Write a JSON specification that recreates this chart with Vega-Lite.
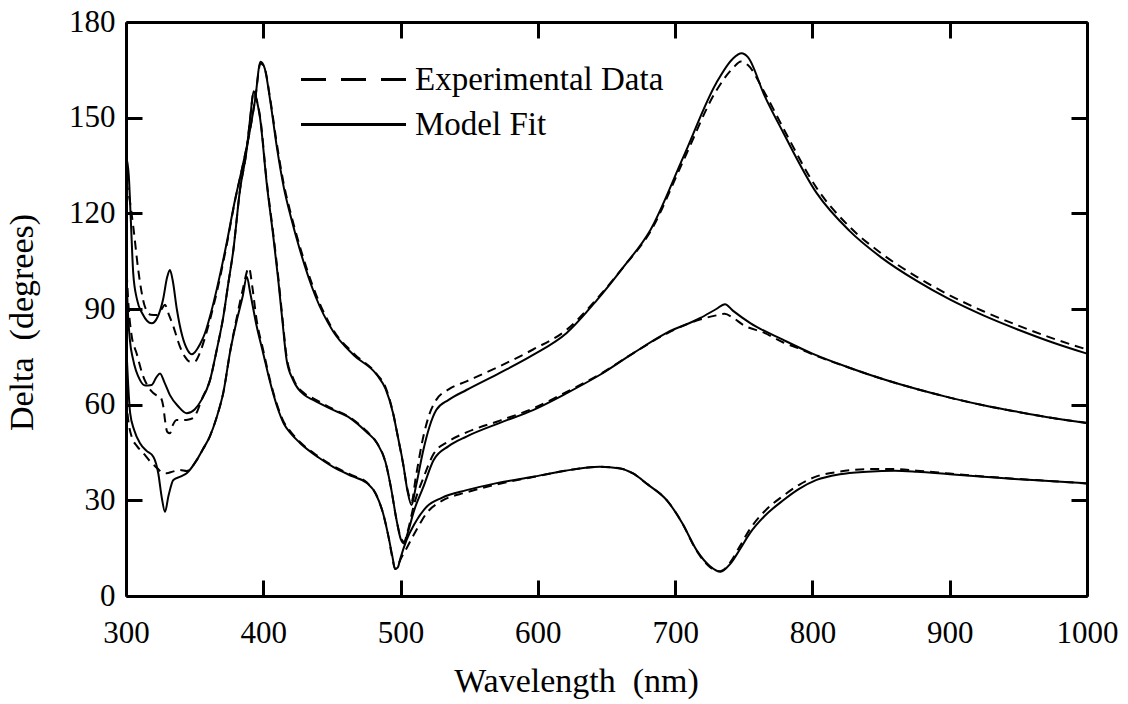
{
  "$schema": "https://vega.github.io/schema/vega-lite/v6.json",
  "width": 961,
  "height": 574,
  "autosize": {"type": "none"},
  "padding": {"left": 126, "top": 22, "right": 41, "bottom": 108},
  "background": "white",
  "config": {
    "view": {"stroke": null},
    "font": "Liberation Serif",
    "axis": {
      "domainColor": "black", "domainWidth": 3, "tickColor": "black", "tickWidth": 3, "tickSize": -16,
      "labelFont": "Liberation Serif", "labelFontSize": 31, "labelColor": "black",
      "titleFont": "Liberation Serif", "titleFontSize": 34, "titleColor": "black", "titleFontWeight": "normal",
      "grid": false, "labelFlush": false, "labelOverlap": false
    }
  },
  "datasets": {
    "pts": [
      {"curve":1,"type":"Model Fit","wavelength":300,"delta":138},{"curve":1,"type":"Model Fit","wavelength":302,"delta":132},{"curve":1,"type":"Model Fit","wavelength":303.5,"delta":118},{"curve":1,"type":"Model Fit","wavelength":305.3,"delta":101},{"curve":1,"type":"Model Fit","wavelength":308,"delta":93},{"curve":1,"type":"Model Fit","wavelength":312,"delta":88.5},{"curve":1,"type":"Model Fit","wavelength":318.7,"delta":85.5},{"curve":1,"type":"Model Fit","wavelength":323,"delta":87.5},{"curve":1,"type":"Model Fit","wavelength":327,"delta":93},{"curve":1,"type":"Model Fit","wavelength":330,"delta":100},{"curve":1,"type":"Model Fit","wavelength":332,"delta":102.2},{"curve":1,"type":"Model Fit","wavelength":334,"delta":99},{"curve":1,"type":"Model Fit","wavelength":337,"delta":90},{"curve":1,"type":"Model Fit","wavelength":341,"delta":81.5},{"curve":1,"type":"Model Fit","wavelength":345,"delta":77},{"curve":1,"type":"Model Fit","wavelength":348,"delta":75.8},{"curve":1,"type":"Model Fit","wavelength":354,"delta":79},{"curve":1,"type":"Model Fit","wavelength":357.5,"delta":82.4},{"curve":1,"type":"Model Fit","wavelength":362,"delta":89},{"curve":1,"type":"Model Fit","wavelength":366,"delta":96},{"curve":1,"type":"Model Fit","wavelength":373.3,"delta":110.6},{"curve":1,"type":"Model Fit","wavelength":379.4,"delta":124.2},{"curve":1,"type":"Model Fit","wavelength":384.3,"delta":133.6},{"curve":1,"type":"Model Fit","wavelength":390.3,"delta":146.1},{"curve":1,"type":"Model Fit","wavelength":394,"delta":155.5},{"curve":1,"type":"Model Fit","wavelength":398,"delta":167.5},{"curve":1,"type":"Model Fit","wavelength":401,"delta":165.5},{"curve":1,"type":"Model Fit","wavelength":405,"delta":155.5},{"curve":1,"type":"Model Fit","wavelength":409.8,"delta":141},{"curve":1,"type":"Model Fit","wavelength":415,"delta":128},{"curve":1,"type":"Model Fit","wavelength":420,"delta":119},{"curve":1,"type":"Model Fit","wavelength":426.7,"delta":108.5},{"curve":1,"type":"Model Fit","wavelength":438,"delta":94},{"curve":1,"type":"Model Fit","wavelength":450.8,"delta":83},{"curve":1,"type":"Model Fit","wavelength":466,"delta":75.5},{"curve":1,"type":"Model Fit","wavelength":482.8,"delta":69.3},{"curve":1,"type":"Model Fit","wavelength":489,"delta":65},{"curve":1,"type":"Model Fit","wavelength":494.5,"delta":57.4},{"curve":1,"type":"Model Fit","wavelength":498,"delta":50},{"curve":1,"type":"Model Fit","wavelength":501.8,"delta":41.7},{"curve":1,"type":"Model Fit","wavelength":505,"delta":33},{"curve":1,"type":"Model Fit","wavelength":508,"delta":28.5},{"curve":1,"type":"Model Fit","wavelength":511,"delta":34},{"curve":1,"type":"Model Fit","wavelength":516.6,"delta":45.8},{"curve":1,"type":"Model Fit","wavelength":521,"delta":53},{"curve":1,"type":"Model Fit","wavelength":526,"delta":58.3},{"curve":1,"type":"Model Fit","wavelength":535,"delta":61.5},{"curve":1,"type":"Model Fit","wavelength":548,"delta":64.6},{"curve":1,"type":"Model Fit","wavelength":572,"delta":69.9},{"curve":1,"type":"Model Fit","wavelength":596.5,"delta":75.6},{"curve":1,"type":"Model Fit","wavelength":621,"delta":82.5},{"curve":1,"type":"Model Fit","wavelength":643,"delta":92.8},{"curve":1,"type":"Model Fit","wavelength":662,"delta":103},{"curve":1,"type":"Model Fit","wavelength":682,"delta":114.8},{"curve":1,"type":"Model Fit","wavelength":706,"delta":137.7},{"curve":1,"type":"Model Fit","wavelength":730,"delta":160.9},{"curve":1,"type":"Model Fit","wavelength":742,"delta":168.5},{"curve":1,"type":"Model Fit","wavelength":748.4,"delta":170.2},{"curve":1,"type":"Model Fit","wavelength":753,"delta":169},{"curve":1,"type":"Model Fit","wavelength":765,"delta":157},{"curve":1,"type":"Model Fit","wavelength":779,"delta":145.1},{"curve":1,"type":"Model Fit","wavelength":803,"delta":126.4},{"curve":1,"type":"Model Fit","wavelength":827,"delta":114.5},{"curve":1,"type":"Model Fit","wavelength":850,"delta":106.2},{"curve":1,"type":"Model Fit","wavelength":876,"delta":98.8},{"curve":1,"type":"Model Fit","wavelength":900,"delta":93},{"curve":1,"type":"Model Fit","wavelength":924.5,"delta":88},{"curve":1,"type":"Model Fit","wavelength":950,"delta":83.5},{"curve":1,"type":"Model Fit","wavelength":975,"delta":79.5},{"curve":1,"type":"Model Fit","wavelength":1000,"delta":76},

      {"curve":1,"type":"Experimental Data","wavelength":300,"delta":130},{"curve":1,"type":"Experimental Data","wavelength":302,"delta":126},{"curve":1,"type":"Experimental Data","wavelength":305.3,"delta":115.8},{"curve":1,"type":"Experimental Data","wavelength":309,"delta":102},{"curve":1,"type":"Experimental Data","wavelength":313.8,"delta":90.7},{"curve":1,"type":"Experimental Data","wavelength":318,"delta":88.2},{"curve":1,"type":"Experimental Data","wavelength":322.4,"delta":88.1},{"curve":1,"type":"Experimental Data","wavelength":326,"delta":90},{"curve":1,"type":"Experimental Data","wavelength":328.4,"delta":91.3},{"curve":1,"type":"Experimental Data","wavelength":331,"delta":88.5},{"curve":1,"type":"Experimental Data","wavelength":334.5,"delta":84.5},{"curve":1,"type":"Experimental Data","wavelength":339.3,"delta":78.2},{"curve":1,"type":"Experimental Data","wavelength":343,"delta":75},{"curve":1,"type":"Experimental Data","wavelength":346.6,"delta":73.5},{"curve":1,"type":"Experimental Data","wavelength":350,"delta":73.5},{"curve":1,"type":"Experimental Data","wavelength":354,"delta":76.5},{"curve":1,"type":"Experimental Data","wavelength":357.5,"delta":81},{"curve":1,"type":"Experimental Data","wavelength":362,"delta":88},{"curve":1,"type":"Experimental Data","wavelength":366,"delta":95},{"curve":1,"type":"Experimental Data","wavelength":373.3,"delta":110},{"curve":1,"type":"Experimental Data","wavelength":379.4,"delta":124},{"curve":1,"type":"Experimental Data","wavelength":384.3,"delta":133.5},{"curve":1,"type":"Experimental Data","wavelength":390.3,"delta":146},{"curve":1,"type":"Experimental Data","wavelength":394,"delta":155.5},{"curve":1,"type":"Experimental Data","wavelength":398,"delta":167},{"curve":1,"type":"Experimental Data","wavelength":401,"delta":165.5},{"curve":1,"type":"Experimental Data","wavelength":405,"delta":156},{"curve":1,"type":"Experimental Data","wavelength":409.8,"delta":142},{"curve":1,"type":"Experimental Data","wavelength":415,"delta":129},{"curve":1,"type":"Experimental Data","wavelength":420,"delta":120},{"curve":1,"type":"Experimental Data","wavelength":426.7,"delta":109.5},{"curve":1,"type":"Experimental Data","wavelength":438,"delta":95},{"curve":1,"type":"Experimental Data","wavelength":450.8,"delta":83.5},{"curve":1,"type":"Experimental Data","wavelength":466,"delta":76},{"curve":1,"type":"Experimental Data","wavelength":482.8,"delta":69.5},{"curve":1,"type":"Experimental Data","wavelength":489,"delta":65.5},{"curve":1,"type":"Experimental Data","wavelength":494.5,"delta":57.5},{"curve":1,"type":"Experimental Data","wavelength":498,"delta":50},{"curve":1,"type":"Experimental Data","wavelength":501.8,"delta":41.5},{"curve":1,"type":"Experimental Data","wavelength":505,"delta":33.5},{"curve":1,"type":"Experimental Data","wavelength":508,"delta":29.5},{"curve":1,"type":"Experimental Data","wavelength":511,"delta":37},{"curve":1,"type":"Experimental Data","wavelength":516.6,"delta":50},{"curve":1,"type":"Experimental Data","wavelength":521,"delta":57},{"curve":1,"type":"Experimental Data","wavelength":526,"delta":61.5},{"curve":1,"type":"Experimental Data","wavelength":535,"delta":64.8},{"curve":1,"type":"Experimental Data","wavelength":548,"delta":67.3},{"curve":1,"type":"Experimental Data","wavelength":572,"delta":72},{"curve":1,"type":"Experimental Data","wavelength":596.5,"delta":77.3},{"curve":1,"type":"Experimental Data","wavelength":621,"delta":83.5},{"curve":1,"type":"Experimental Data","wavelength":643,"delta":93.2},{"curve":1,"type":"Experimental Data","wavelength":662,"delta":103},{"curve":1,"type":"Experimental Data","wavelength":682,"delta":114.3},{"curve":1,"type":"Experimental Data","wavelength":706,"delta":136.5},{"curve":1,"type":"Experimental Data","wavelength":730,"delta":158.5},{"curve":1,"type":"Experimental Data","wavelength":742,"delta":165.5},{"curve":1,"type":"Experimental Data","wavelength":748,"delta":167.6},{"curve":1,"type":"Experimental Data","wavelength":753,"delta":166.5},{"curve":1,"type":"Experimental Data","wavelength":765,"delta":158},{"curve":1,"type":"Experimental Data","wavelength":779,"delta":146.5},{"curve":1,"type":"Experimental Data","wavelength":803,"delta":128},{"curve":1,"type":"Experimental Data","wavelength":827,"delta":115.8},{"curve":1,"type":"Experimental Data","wavelength":850,"delta":107.5},{"curve":1,"type":"Experimental Data","wavelength":876,"delta":100.1},{"curve":1,"type":"Experimental Data","wavelength":900,"delta":94.3},{"curve":1,"type":"Experimental Data","wavelength":924.5,"delta":89.3},{"curve":1,"type":"Experimental Data","wavelength":950,"delta":84.8},{"curve":1,"type":"Experimental Data","wavelength":975,"delta":80.8},{"curve":1,"type":"Experimental Data","wavelength":1000,"delta":77.3},

      {"curve":2,"type":"Model Fit","wavelength":300,"delta":108},{"curve":2,"type":"Model Fit","wavelength":301,"delta":93},{"curve":2,"type":"Model Fit","wavelength":302.9,"delta":80},{"curve":2,"type":"Model Fit","wavelength":305,"delta":74.5},{"curve":2,"type":"Model Fit","wavelength":310.2,"delta":67.7},{"curve":2,"type":"Model Fit","wavelength":314,"delta":66},{"curve":2,"type":"Model Fit","wavelength":318.7,"delta":66.2},{"curve":2,"type":"Model Fit","wavelength":322,"delta":68.5},{"curve":2,"type":"Model Fit","wavelength":324.8,"delta":69.8},{"curve":2,"type":"Model Fit","wavelength":328,"delta":67},{"curve":2,"type":"Model Fit","wavelength":332,"delta":63},{"curve":2,"type":"Model Fit","wavelength":338,"delta":59.5},{"curve":2,"type":"Model Fit","wavelength":344.2,"delta":57.3},{"curve":2,"type":"Model Fit","wavelength":350,"delta":58.5},{"curve":2,"type":"Model Fit","wavelength":355,"delta":61.5},{"curve":2,"type":"Model Fit","wavelength":361.2,"delta":67.7},{"curve":2,"type":"Model Fit","wavelength":366,"delta":77},{"curve":2,"type":"Model Fit","wavelength":370.9,"delta":87.6},{"curve":2,"type":"Model Fit","wavelength":374.5,"delta":98},{"curve":2,"type":"Model Fit","wavelength":378.2,"delta":108.5},{"curve":2,"type":"Model Fit","wavelength":383,"delta":127.3},{"curve":2,"type":"Model Fit","wavelength":387.9,"delta":139.9},{"curve":2,"type":"Model Fit","wavelength":390.5,"delta":150},{"curve":2,"type":"Model Fit","wavelength":393,"delta":158.3},{"curve":2,"type":"Model Fit","wavelength":395.5,"delta":155},{"curve":2,"type":"Model Fit","wavelength":397.6,"delta":150},{"curve":2,"type":"Model Fit","wavelength":402.5,"delta":129.4},{"curve":2,"type":"Model Fit","wavelength":407.3,"delta":112.7},{"curve":2,"type":"Model Fit","wavelength":410.9,"delta":99.1},{"curve":2,"type":"Model Fit","wavelength":414,"delta":86},{"curve":2,"type":"Model Fit","wavelength":417,"delta":74},{"curve":2,"type":"Model Fit","wavelength":422,"delta":67.5},{"curve":2,"type":"Model Fit","wavelength":430,"delta":63},{"curve":2,"type":"Model Fit","wavelength":436.3,"delta":61.5},{"curve":2,"type":"Model Fit","wavelength":450,"delta":58.5},{"curve":2,"type":"Model Fit","wavelength":463.2,"delta":55.8},{"curve":2,"type":"Model Fit","wavelength":475,"delta":51.5},{"curve":2,"type":"Model Fit","wavelength":482.8,"delta":48},{"curve":2,"type":"Model Fit","wavelength":489,"delta":42},{"curve":2,"type":"Model Fit","wavelength":493,"delta":34},{"curve":2,"type":"Model Fit","wavelength":497,"delta":24},{"curve":2,"type":"Model Fit","wavelength":500,"delta":18},{"curve":2,"type":"Model Fit","wavelength":502.5,"delta":16.5},{"curve":2,"type":"Model Fit","wavelength":505,"delta":19.5},{"curve":2,"type":"Model Fit","wavelength":510,"delta":27},{"curve":2,"type":"Model Fit","wavelength":516.6,"delta":34.2},{"curve":2,"type":"Model Fit","wavelength":524,"delta":42.6},{"curve":2,"type":"Model Fit","wavelength":535,"delta":47},{"curve":2,"type":"Model Fit","wavelength":548,"delta":50},{"curve":2,"type":"Model Fit","wavelength":572.4,"delta":54.3},{"curve":2,"type":"Model Fit","wavelength":596.5,"delta":58.3},{"curve":2,"type":"Model Fit","wavelength":621,"delta":63.6},{"curve":2,"type":"Model Fit","wavelength":645,"delta":69.3},{"curve":2,"type":"Model Fit","wavelength":669.3,"delta":76.1},{"curve":2,"type":"Model Fit","wavelength":693.8,"delta":82.5},{"curve":2,"type":"Model Fit","wavelength":718,"delta":87.1},{"curve":2,"type":"Model Fit","wavelength":730,"delta":90},{"curve":2,"type":"Model Fit","wavelength":736.3,"delta":91.5},{"curve":2,"type":"Model Fit","wavelength":742,"delta":89.5},{"curve":2,"type":"Model Fit","wavelength":755,"delta":85.5},{"curve":2,"type":"Model Fit","wavelength":778.8,"delta":80.3},{"curve":2,"type":"Model Fit","wavelength":800,"delta":76},{"curve":2,"type":"Model Fit","wavelength":827.4,"delta":71.5},{"curve":2,"type":"Model Fit","wavelength":850,"delta":68.2},{"curve":2,"type":"Model Fit","wavelength":876,"delta":64.9},{"curve":2,"type":"Model Fit","wavelength":900,"delta":62.2},{"curve":2,"type":"Model Fit","wavelength":924.5,"delta":59.8},{"curve":2,"type":"Model Fit","wavelength":950,"delta":57.7},{"curve":2,"type":"Model Fit","wavelength":975,"delta":55.8},{"curve":2,"type":"Model Fit","wavelength":1000,"delta":54.2},

      {"curve":2,"type":"Experimental Data","wavelength":300,"delta":106},{"curve":2,"type":"Experimental Data","wavelength":302,"delta":90},{"curve":2,"type":"Experimental Data","wavelength":304,"delta":82},{"curve":2,"type":"Experimental Data","wavelength":307.8,"delta":76},{"curve":2,"type":"Experimental Data","wavelength":312.6,"delta":68.8},{"curve":2,"type":"Experimental Data","wavelength":318,"delta":64.5},{"curve":2,"type":"Experimental Data","wavelength":322,"delta":63},{"curve":2,"type":"Experimental Data","wavelength":324.8,"delta":62.5},{"curve":2,"type":"Experimental Data","wavelength":327.2,"delta":59.4},{"curve":2,"type":"Experimental Data","wavelength":328.4,"delta":55.2},{"curve":2,"type":"Experimental Data","wavelength":330,"delta":51.5},{"curve":2,"type":"Experimental Data","wavelength":332,"delta":51},{"curve":2,"type":"Experimental Data","wavelength":334,"delta":53.5},{"curve":2,"type":"Experimental Data","wavelength":336.9,"delta":55.2},{"curve":2,"type":"Experimental Data","wavelength":341.7,"delta":55.2},{"curve":2,"type":"Experimental Data","wavelength":345,"delta":55.3},{"curve":2,"type":"Experimental Data","wavelength":349,"delta":55.8},{"curve":2,"type":"Experimental Data","wavelength":352,"delta":58},{"curve":2,"type":"Experimental Data","wavelength":355,"delta":61.5},{"curve":2,"type":"Experimental Data","wavelength":361.2,"delta":67.7},{"curve":2,"type":"Experimental Data","wavelength":366,"delta":77},{"curve":2,"type":"Experimental Data","wavelength":370.9,"delta":87.6},{"curve":2,"type":"Experimental Data","wavelength":374.5,"delta":98},{"curve":2,"type":"Experimental Data","wavelength":378.2,"delta":108.5},{"curve":2,"type":"Experimental Data","wavelength":383,"delta":127.3},{"curve":2,"type":"Experimental Data","wavelength":387.9,"delta":139.9},{"curve":2,"type":"Experimental Data","wavelength":390.5,"delta":150},{"curve":2,"type":"Experimental Data","wavelength":393,"delta":158},{"curve":2,"type":"Experimental Data","wavelength":395.5,"delta":155},{"curve":2,"type":"Experimental Data","wavelength":397.6,"delta":150.5},{"curve":2,"type":"Experimental Data","wavelength":402.5,"delta":130},{"curve":2,"type":"Experimental Data","wavelength":407.3,"delta":113.5},{"curve":2,"type":"Experimental Data","wavelength":410.9,"delta":100},{"curve":2,"type":"Experimental Data","wavelength":414,"delta":87},{"curve":2,"type":"Experimental Data","wavelength":417,"delta":75},{"curve":2,"type":"Experimental Data","wavelength":422,"delta":68},{"curve":2,"type":"Experimental Data","wavelength":430,"delta":63.5},{"curve":2,"type":"Experimental Data","wavelength":436.3,"delta":62},{"curve":2,"type":"Experimental Data","wavelength":450,"delta":58.8},{"curve":2,"type":"Experimental Data","wavelength":463.2,"delta":56},{"curve":2,"type":"Experimental Data","wavelength":475,"delta":51.8},{"curve":2,"type":"Experimental Data","wavelength":482.8,"delta":48},{"curve":2,"type":"Experimental Data","wavelength":489,"delta":42},{"curve":2,"type":"Experimental Data","wavelength":493,"delta":34},{"curve":2,"type":"Experimental Data","wavelength":497,"delta":24},{"curve":2,"type":"Experimental Data","wavelength":500,"delta":18.5},{"curve":2,"type":"Experimental Data","wavelength":502.5,"delta":17},{"curve":2,"type":"Experimental Data","wavelength":505,"delta":20},{"curve":2,"type":"Experimental Data","wavelength":510,"delta":29},{"curve":2,"type":"Experimental Data","wavelength":516.6,"delta":37},{"curve":2,"type":"Experimental Data","wavelength":524,"delta":44.5},{"curve":2,"type":"Experimental Data","wavelength":535,"delta":48.5},{"curve":2,"type":"Experimental Data","wavelength":548,"delta":51.3},{"curve":2,"type":"Experimental Data","wavelength":572.4,"delta":55},{"curve":2,"type":"Experimental Data","wavelength":596.5,"delta":58.8},{"curve":2,"type":"Experimental Data","wavelength":621,"delta":64},{"curve":2,"type":"Experimental Data","wavelength":645,"delta":69.5},{"curve":2,"type":"Experimental Data","wavelength":669.3,"delta":76.1},{"curve":2,"type":"Experimental Data","wavelength":693.8,"delta":82.3},{"curve":2,"type":"Experimental Data","wavelength":718,"delta":86.7},{"curve":2,"type":"Experimental Data","wavelength":730,"delta":88},{"curve":2,"type":"Experimental Data","wavelength":736,"delta":88.5},{"curve":2,"type":"Experimental Data","wavelength":742,"delta":87.3},{"curve":2,"type":"Experimental Data","wavelength":749.6,"delta":85},{"curve":2,"type":"Experimental Data","wavelength":765,"delta":82.5},{"curve":2,"type":"Experimental Data","wavelength":778.8,"delta":79.5},{"curve":2,"type":"Experimental Data","wavelength":790.9,"delta":77.5},{"curve":2,"type":"Experimental Data","wavelength":800,"delta":75.8},{"curve":2,"type":"Experimental Data","wavelength":827.4,"delta":71.5},{"curve":2,"type":"Experimental Data","wavelength":850,"delta":68.2},{"curve":2,"type":"Experimental Data","wavelength":876,"delta":64.9},{"curve":2,"type":"Experimental Data","wavelength":900,"delta":62.2},{"curve":2,"type":"Experimental Data","wavelength":924.5,"delta":59.8},{"curve":2,"type":"Experimental Data","wavelength":950,"delta":57.7},{"curve":2,"type":"Experimental Data","wavelength":975,"delta":55.8},{"curve":2,"type":"Experimental Data","wavelength":1000,"delta":54.3},

      {"curve":3,"type":"Model Fit","wavelength":300,"delta":80},{"curve":3,"type":"Model Fit","wavelength":301.5,"delta":67},{"curve":3,"type":"Model Fit","wavelength":303,"delta":57.4},{"curve":3,"type":"Model Fit","wavelength":306,"delta":52},{"curve":3,"type":"Model Fit","wavelength":310.2,"delta":47.9},{"curve":3,"type":"Model Fit","wavelength":315,"delta":45.5},{"curve":3,"type":"Model Fit","wavelength":319.9,"delta":43.7},{"curve":3,"type":"Model Fit","wavelength":323.5,"delta":38.5},{"curve":3,"type":"Model Fit","wavelength":326,"delta":31},{"curve":3,"type":"Model Fit","wavelength":328.4,"delta":26.4},{"curve":3,"type":"Model Fit","wavelength":331,"delta":31.5},{"curve":3,"type":"Model Fit","wavelength":334.5,"delta":36.4},{"curve":3,"type":"Model Fit","wavelength":340,"delta":37.5},{"curve":3,"type":"Model Fit","wavelength":344.2,"delta":38.5},{"curve":3,"type":"Model Fit","wavelength":351.5,"delta":42.6},{"curve":3,"type":"Model Fit","wavelength":356,"delta":46},{"curve":3,"type":"Model Fit","wavelength":361,"delta":50},{"curve":3,"type":"Model Fit","wavelength":366,"delta":56},{"curve":3,"type":"Model Fit","wavelength":371,"delta":64},{"curve":3,"type":"Model Fit","wavelength":376,"delta":77},{"curve":3,"type":"Model Fit","wavelength":381,"delta":87},{"curve":3,"type":"Model Fit","wavelength":385,"delta":94},{"curve":3,"type":"Model Fit","wavelength":388,"delta":100.1},{"curve":3,"type":"Model Fit","wavelength":390.5,"delta":95},{"curve":3,"type":"Model Fit","wavelength":395,"delta":85},{"curve":3,"type":"Model Fit","wavelength":400,"delta":76},{"curve":3,"type":"Model Fit","wavelength":405,"delta":67},{"curve":3,"type":"Model Fit","wavelength":410,"delta":59.5},{"curve":3,"type":"Model Fit","wavelength":415,"delta":54},{"curve":3,"type":"Model Fit","wavelength":420,"delta":51},{"curve":3,"type":"Model Fit","wavelength":426.7,"delta":48},{"curve":3,"type":"Model Fit","wavelength":440,"delta":43.5},{"curve":3,"type":"Model Fit","wavelength":450.8,"delta":40.5},{"curve":3,"type":"Model Fit","wavelength":465,"delta":37.5},{"curve":3,"type":"Model Fit","wavelength":475.5,"delta":35.4},{"curve":3,"type":"Model Fit","wavelength":482,"delta":32},{"curve":3,"type":"Model Fit","wavelength":487.2,"delta":26},{"curve":3,"type":"Model Fit","wavelength":491,"delta":19},{"curve":3,"type":"Model Fit","wavelength":494,"delta":12.5},{"curve":3,"type":"Model Fit","wavelength":496,"delta":8.5},{"curve":3,"type":"Model Fit","wavelength":498,"delta":9},{"curve":3,"type":"Model Fit","wavelength":500,"delta":12},{"curve":3,"type":"Model Fit","wavelength":504.4,"delta":17.6},{"curve":3,"type":"Model Fit","wavelength":510,"delta":22.5},{"curve":3,"type":"Model Fit","wavelength":519,"delta":28},{"curve":3,"type":"Model Fit","wavelength":530,"delta":30.8},{"curve":3,"type":"Model Fit","wavelength":548,"delta":33.2},{"curve":3,"type":"Model Fit","wavelength":570,"delta":35.4},{"curve":3,"type":"Model Fit","wavelength":596.5,"delta":37.4},{"curve":3,"type":"Model Fit","wavelength":620,"delta":39.3},{"curve":3,"type":"Model Fit","wavelength":645,"delta":40.5},{"curve":3,"type":"Model Fit","wavelength":660,"delta":40},{"curve":3,"type":"Model Fit","wavelength":669,"delta":38.5},{"curve":3,"type":"Model Fit","wavelength":680,"delta":35},{"curve":3,"type":"Model Fit","wavelength":694,"delta":30},{"curve":3,"type":"Model Fit","wavelength":705,"delta":23},{"curve":3,"type":"Model Fit","wavelength":715.6,"delta":14.4},{"curve":3,"type":"Model Fit","wavelength":725,"delta":9.5},{"curve":3,"type":"Model Fit","wavelength":733,"delta":7.6},{"curve":3,"type":"Model Fit","wavelength":740,"delta":10},{"curve":3,"type":"Model Fit","wavelength":747,"delta":14.5},{"curve":3,"type":"Model Fit","wavelength":754.5,"delta":19.7},{"curve":3,"type":"Model Fit","wavelength":765,"delta":25},{"curve":3,"type":"Model Fit","wavelength":779,"delta":30.1},{"curve":3,"type":"Model Fit","wavelength":790,"delta":33.5},{"curve":3,"type":"Model Fit","wavelength":803,"delta":36.4},{"curve":3,"type":"Model Fit","wavelength":820,"delta":38.2},{"curve":3,"type":"Model Fit","wavelength":840,"delta":39},{"curve":3,"type":"Model Fit","wavelength":860,"delta":39.3},{"curve":3,"type":"Model Fit","wavelength":876,"delta":39},{"curve":3,"type":"Model Fit","wavelength":900,"delta":38.2},{"curve":3,"type":"Model Fit","wavelength":924.5,"delta":37.4},{"curve":3,"type":"Model Fit","wavelength":950,"delta":36.6},{"curve":3,"type":"Model Fit","wavelength":975,"delta":36},{"curve":3,"type":"Model Fit","wavelength":1000,"delta":35.3},

      {"curve":3,"type":"Experimental Data","wavelength":300,"delta":62},{"curve":3,"type":"Experimental Data","wavelength":302,"delta":54},{"curve":3,"type":"Experimental Data","wavelength":304.1,"delta":50},{"curve":3,"type":"Experimental Data","wavelength":308,"delta":47},{"curve":3,"type":"Experimental Data","wavelength":312.6,"delta":44.8},{"curve":3,"type":"Experimental Data","wavelength":318,"delta":42},{"curve":3,"type":"Experimental Data","wavelength":323,"delta":40},{"curve":3,"type":"Experimental Data","wavelength":326,"delta":38.8},{"curve":3,"type":"Experimental Data","wavelength":329.6,"delta":38.5},{"curve":3,"type":"Experimental Data","wavelength":334,"delta":39},{"curve":3,"type":"Experimental Data","wavelength":339.3,"delta":39.5},{"curve":3,"type":"Experimental Data","wavelength":344.2,"delta":39.2},{"curve":3,"type":"Experimental Data","wavelength":351.5,"delta":42.6},{"curve":3,"type":"Experimental Data","wavelength":356,"delta":46},{"curve":3,"type":"Experimental Data","wavelength":361,"delta":50},{"curve":3,"type":"Experimental Data","wavelength":366,"delta":56},{"curve":3,"type":"Experimental Data","wavelength":371,"delta":64},{"curve":3,"type":"Experimental Data","wavelength":376,"delta":77},{"curve":3,"type":"Experimental Data","wavelength":381,"delta":88},{"curve":3,"type":"Experimental Data","wavelength":385,"delta":96},{"curve":3,"type":"Experimental Data","wavelength":389.6,"delta":102.9},{"curve":3,"type":"Experimental Data","wavelength":392,"delta":97},{"curve":3,"type":"Experimental Data","wavelength":395,"delta":87},{"curve":3,"type":"Experimental Data","wavelength":400,"delta":77},{"curve":3,"type":"Experimental Data","wavelength":405,"delta":67.5},{"curve":3,"type":"Experimental Data","wavelength":410,"delta":60},{"curve":3,"type":"Experimental Data","wavelength":415,"delta":54.5},{"curve":3,"type":"Experimental Data","wavelength":420,"delta":51.5},{"curve":3,"type":"Experimental Data","wavelength":426.7,"delta":48.3},{"curve":3,"type":"Experimental Data","wavelength":440,"delta":43.8},{"curve":3,"type":"Experimental Data","wavelength":450.8,"delta":40.8},{"curve":3,"type":"Experimental Data","wavelength":465,"delta":37.8},{"curve":3,"type":"Experimental Data","wavelength":475.5,"delta":35.6},{"curve":3,"type":"Experimental Data","wavelength":482,"delta":32},{"curve":3,"type":"Experimental Data","wavelength":487.2,"delta":26},{"curve":3,"type":"Experimental Data","wavelength":491,"delta":19},{"curve":3,"type":"Experimental Data","wavelength":494,"delta":12},{"curve":3,"type":"Experimental Data","wavelength":496,"delta":8.5},{"curve":3,"type":"Experimental Data","wavelength":498,"delta":9.5},{"curve":3,"type":"Experimental Data","wavelength":500,"delta":11.5},{"curve":3,"type":"Experimental Data","wavelength":504.4,"delta":15},{"curve":3,"type":"Experimental Data","wavelength":510,"delta":19.5},{"curve":3,"type":"Experimental Data","wavelength":519,"delta":26},{"curve":3,"type":"Experimental Data","wavelength":530,"delta":29.8},{"curve":3,"type":"Experimental Data","wavelength":548,"delta":32.5},{"curve":3,"type":"Experimental Data","wavelength":570,"delta":35},{"curve":3,"type":"Experimental Data","wavelength":596.5,"delta":37.3},{"curve":3,"type":"Experimental Data","wavelength":620,"delta":39.3},{"curve":3,"type":"Experimental Data","wavelength":645,"delta":40.5},{"curve":3,"type":"Experimental Data","wavelength":660,"delta":40},{"curve":3,"type":"Experimental Data","wavelength":669,"delta":38.5},{"curve":3,"type":"Experimental Data","wavelength":680,"delta":35},{"curve":3,"type":"Experimental Data","wavelength":694,"delta":30},{"curve":3,"type":"Experimental Data","wavelength":705,"delta":23},{"curve":3,"type":"Experimental Data","wavelength":715.6,"delta":14.2},{"curve":3,"type":"Experimental Data","wavelength":725,"delta":9.2},{"curve":3,"type":"Experimental Data","wavelength":733,"delta":7.8},{"curve":3,"type":"Experimental Data","wavelength":740,"delta":10.5},{"curve":3,"type":"Experimental Data","wavelength":747,"delta":15.5},{"curve":3,"type":"Experimental Data","wavelength":754.5,"delta":21},{"curve":3,"type":"Experimental Data","wavelength":765,"delta":26.5},{"curve":3,"type":"Experimental Data","wavelength":779,"delta":31.5},{"curve":3,"type":"Experimental Data","wavelength":790,"delta":34.8},{"curve":3,"type":"Experimental Data","wavelength":803,"delta":37.5},{"curve":3,"type":"Experimental Data","wavelength":820,"delta":39},{"curve":3,"type":"Experimental Data","wavelength":840,"delta":39.8},{"curve":3,"type":"Experimental Data","wavelength":860,"delta":39.8},{"curve":3,"type":"Experimental Data","wavelength":876,"delta":39.3},{"curve":3,"type":"Experimental Data","wavelength":900,"delta":38.4},{"curve":3,"type":"Experimental Data","wavelength":924.5,"delta":37.5},{"curve":3,"type":"Experimental Data","wavelength":950,"delta":36.7},{"curve":3,"type":"Experimental Data","wavelength":975,"delta":36},{"curve":3,"type":"Experimental Data","wavelength":1000,"delta":35.3}
    ]
  },
  "data": {"name": "pts"},
  "layer": [
    {
      "transform": [{"filter": {"field": "type", "equal": "Experimental Data"}}],
      "mark": {"type": "line", "color": "black", "strokeWidth": 2, "strokeDash": [9, 6], "interpolate": "monotone"},
      "encoding": {
        "x": {"field": "wavelength", "type": "quantitative",
          "scale": {"domain": [300, 1000], "nice": false, "zero": false},
          "axis": {"orient": "bottom", "values": [300, 400, 500, 600, 700, 800, 900, 1000], "format": "d", "labelPadding": 38,
            "title": "Wavelength\u00a0 (nm)", "titleX": 450, "titleY": 95, "titleAlign": "center", "titleBaseline": "alphabetic"}},
        "y": {"field": "delta", "type": "quantitative",
          "scale": {"domain": [0, 180], "nice": false, "zero": false},
          "axis": {"orient": "left", "values": [0, 30, 60, 90, 120, 150, 180], "format": "d", "labelPadding": 27,
            "title": "Delta\u00a0 (degrees)", "titleX": -104, "titleY": 300, "titleAngle": 270, "titleAlign": "center", "titleBaseline": "middle"}},
        "detail": {"field": "curve", "type": "nominal"}
      }
    },
    {
      "transform": [{"filter": {"field": "type", "equal": "Model Fit"}}],
      "mark": {"type": "line", "color": "black", "strokeWidth": 2, "interpolate": "monotone"},
      "encoding": {
        "x": {"field": "wavelength", "type": "quantitative",
          "scale": {"domain": [300, 1000], "nice": false, "zero": false},
          "axis": {"orient": "top", "values": [300, 400, 500, 600, 700, 800, 900, 1000], "labels": false, "title": null}},
        "y": {"field": "delta", "type": "quantitative",
          "scale": {"domain": [0, 180], "nice": false, "zero": false},
          "axis": {"orient": "right", "values": [0, 30, 60, 90, 120, 150, 180], "labels": false, "title": null}},
        "detail": {"field": "curve", "type": "nominal"}
      }
    },
    {
      "transform": [{"filter": "datum.wavelength < 0"}],
      "mark": {"type": "line", "color": "black", "strokeWidth": 2},
      "encoding": {
        "x": {"field": "wavelength", "type": "quantitative", "axis": null},
        "y": {"field": "delta", "type": "quantitative", "axis": null},
        "detail": {"field": "curve", "type": "nominal"},
        "strokeDash": {"field": "type", "type": "nominal",
          "scale": {"domain": ["Experimental Data", "Model Fit"], "range": [[25, 15], [1, 0]]},
          "legend": {"orient": "none", "legendX": 169, "legendY": 41, "title": null, "padding": 0,
            "symbolType": "M-5,0H5", "symbolSize": 441, "symbolOffset": 42, "symbolStrokeWidth": 3, "symbolStrokeColor": "black",
            "labelFont": "Liberation Serif", "labelFontSize": 33, "labelColor": "black", "labelOffset": 45, "labelLimit": 0, "rowPadding": 11}}
      }
    }
  ],
  "resolve": {"axis": {"x": "independent", "y": "independent"}}
}
